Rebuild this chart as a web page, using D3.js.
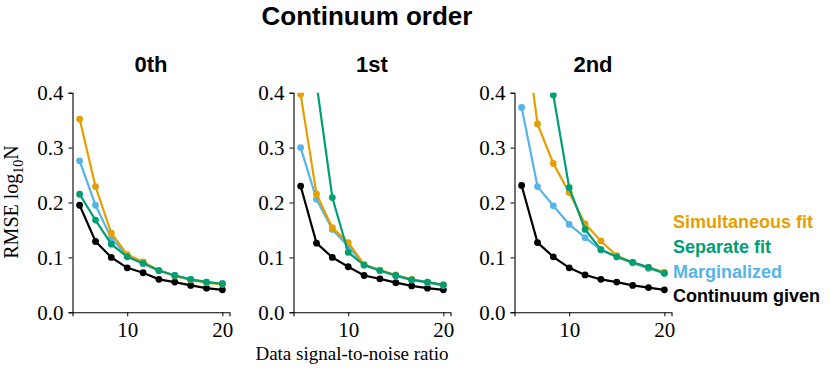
<!DOCTYPE html>
<html>
<head>
<meta charset="utf-8">
<script src="https://cdn.jsdelivr.net/npm/d3@7"></script>
<style>
  body { margin: 0; background: #fff; }
  svg { display: block; }
</style>
</head>
<body>
<svg id="chart" width="830" height="374"></svg>
<script>
// signal-to-noise ratio grid (x values, same for every panel)
var snr = [5, 6.67, 8.33, 10, 11.67, 13.33, 15, 16.67, 18.33, 20];

var panelTitles = ["0th", "1st", "2nd"];
var seriesNames = ["Continuum given", "Marginalized", "Simultaneous fit", "Separate fit"];
var seriesColors = ["#000000", "#56B4E9", "#E69F00", "#009E73"];
var legendOrder = ["Simultaneous fit", "Separate fit", "Marginalized", "Continuum given"];
var yTicks = [0, 0.1, 0.2, 0.3, 0.4];
var xTicks = [10, 20];

// 0th order
var given0 = [0.195, 0.129, 0.100, 0.081, 0.072, 0.060, 0.055, 0.049, 0.044, 0.041];
var marg0  = [0.276, 0.195, 0.135, 0.103, 0.090, 0.076, 0.067, 0.060, 0.055, 0.052];
var simul0 = [0.352, 0.229, 0.144, 0.105, 0.092, 0.076, 0.066, 0.059, 0.054, 0.051];
var sep0   = [0.215, 0.168, 0.124, 0.101, 0.089, 0.076, 0.067, 0.060, 0.055, 0.052];
// 1st order
var given1 = [0.230, 0.126, 0.100, 0.083, 0.067, 0.061, 0.054, 0.048, 0.044, 0.041];
var marg1  = [0.300, 0.206, 0.151, 0.120, 0.086, 0.076, 0.066, 0.059, 0.054, 0.049];
var simul1 = [0.397, 0.215, 0.154, 0.127, 0.087, 0.077, 0.068, 0.060, 0.055, 0.050];
var sep1   = [0.620, 0.417, 0.209, 0.109, 0.086, 0.076, 0.067, 0.059, 0.055, 0.050];
// 2nd order
var given2 = [0.231, 0.127, 0.101, 0.081, 0.068, 0.060, 0.055, 0.049, 0.045, 0.041];
var marg2  = [0.373, 0.229, 0.194, 0.160, 0.136, 0.114, 0.101, 0.090, 0.080, 0.071];
var simul2 = [0.560, 0.343, 0.271, 0.218, 0.161, 0.130, 0.103, 0.091, 0.082, 0.073];
var sep2   = [1.200, 0.750, 0.396, 0.227, 0.151, 0.114, 0.101, 0.091, 0.082, 0.071];

var panels = [
  [given0, marg0, simul0, sep0],
  [given1, marg1, simul1, sep1],
  [given2, marg2, simul2, sep2]
];

var serif = "'Liberation Serif', 'DejaVu Serif', serif";
var sans = "'Liberation Sans', Arial, sans-serif";

var svg = d3.select("#chart");
var panelLefts = [72.5, 293.5, 514.5];
var panelW = 157;
var yTop = 92.7, yBottom = 312.3;

var y = d3.scaleLinear().domain([0, 0.4]).range([yBottom, yTop]);

svg.append("text")
  .attr("x", 367).attr("y", 25)
  .attr("text-anchor", "middle")
  .style("font-family", sans).style("font-weight", "bold").style("font-size", "26px")
  .text("Continuum order");

panels.forEach(function(series, p) {
  var x = d3.scaleLinear().domain([4.25, 20.75]).range([panelLefts[p], panelLefts[p] + panelW]);
  var g = svg.append("g");

  g.append("clipPath").attr("id", "clip" + p)
    .append("rect")
    .attr("x", panelLefts[p]).attr("y", yTop)
    .attr("width", panelW + 10).attr("height", yBottom - yTop + 10);

  g.append("text")
    .attr("x", panelLefts[p] + panelW / 2).attr("y", 72)
    .attr("text-anchor", "middle")
    .style("font-family", sans).style("font-weight", "bold").style("font-size", "22px")
    .text(panelTitles[p]);

  var yAx = g.append("g")
    .attr("transform", "translate(" + panelLefts[p] + ",0)")
    .call(d3.axisLeft(y).tickValues(yTicks).tickFormat(d3.format(".1f")).tickSizeOuter(0).tickSize(4).tickPadding(5));
  var xAx = g.append("g")
    .attr("transform", "translate(0," + yBottom + ")")
    .call(d3.axisBottom(x).tickValues(xTicks).tickSizeOuter(0).tickSize(4).tickPadding(6));
  [yAx, xAx].forEach(function(a) {
    a.selectAll("text").style("font-family", serif).style("font-size", "21px").attr("fill", "#000");
    a.selectAll("line").attr("stroke", "#000").attr("stroke-width", 1);
    a.select(".domain").attr("stroke", "#000").attr("stroke-width", 1.1);
  });

  var line = d3.line().x(function(d, i) { return x(snr[i]); }).y(function(d) { return y(d); });
  var plot = g.append("g").attr("clip-path", "url(#clip" + p + ")");
  series.forEach(function(vals, s) {
    plot.append("path")
      .datum(vals)
      .attr("d", line)
      .attr("fill", "none")
      .attr("stroke", seriesColors[s])
      .attr("stroke-width", 2.2);
    plot.selectAll(null)
      .data(vals)
      .enter().append("circle")
      .attr("cx", function(d, i) { return x(snr[i]); })
      .attr("cy", function(d) { return y(d); })
      .attr("r", 3.4)
      .attr("fill", seriesColors[s]);
  });
});

// y label
var yl = svg.append("text")
  .attr("transform", "translate(18,202) rotate(-90)")
  .attr("text-anchor", "middle")
  .style("font-family", serif).style("font-size", "20px");
yl.append("tspan").text("RMSE log");
yl.append("tspan").attr("dy", 5).style("font-size", "14px").text("10");
yl.append("tspan").attr("dy", -5).text("N");

svg.append("text")
  .attr("x", 352).attr("y", 360)
  .attr("text-anchor", "middle")
  .style("font-family", serif).style("font-size", "19px")
  .text("Data signal-to-noise ratio");

// legend
var legendY = [228, 253, 278, 302];
legendOrder.forEach(function(name, i) {
  svg.append("text")
    .attr("x", 673).attr("y", legendY[i])
    .style("font-family", sans).style("font-weight", "bold").style("font-size", "18px")
    .attr("fill", seriesColors[seriesNames.indexOf(name)])
    .text(name);
});
</script>
</body>
</html>
